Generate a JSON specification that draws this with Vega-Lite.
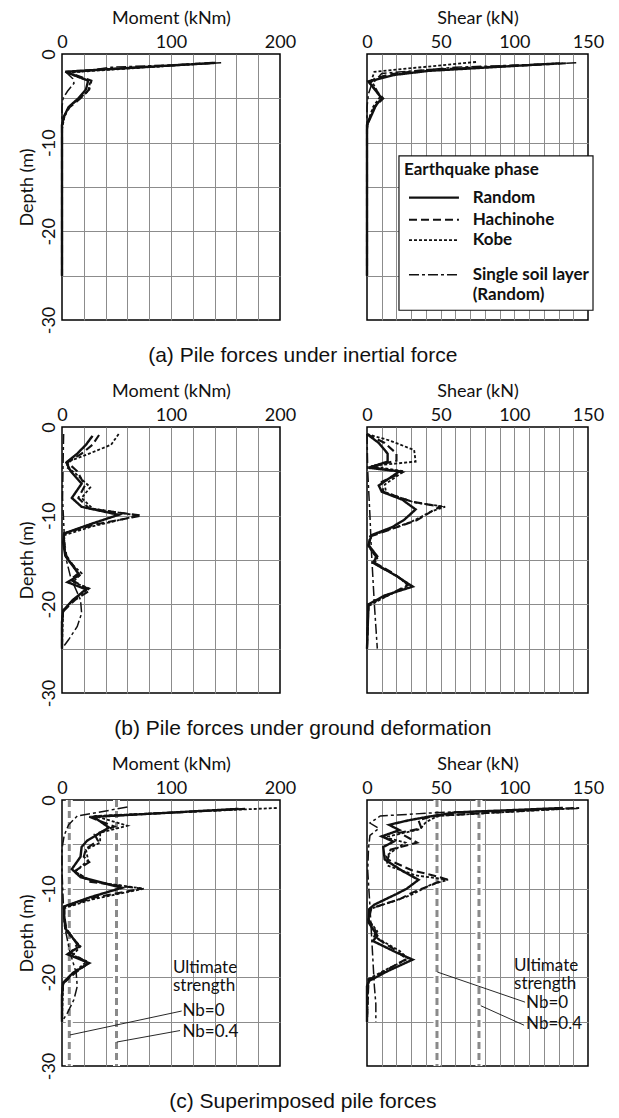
{
"$schema": "https://vega.github.io/schema/vega-lite/v6.json",
"padding": {"left": 17, "right": 4, "top": 8, "bottom": 4},
"config": {
  "view": {"stroke": "#000", "strokeWidth": 1.5},
  "axis": {"labelFont": "Lato", "labelFontSize": 18, "labelColor": "#111", "titleFont": "Lato", "titleFontSize": 18, "titleFontWeight": "normal", "titleColor": "#111", "gridColor": "#8c8c8c", "gridWidth": 1, "labelPadding": 3, "titlePadding": 6},
  "title": {"font": "Liberation Sans", "fontSize": 21, "fontWeight": "normal", "color": "#111"},
  "text": {"font": "Lato", "fontSize": 17, "color": "#111"},
  "line": {"color": "#111"}
},
"datasets": {
  "aM": [
    {"s":"Random","v":141,"d":-1},{"s":"Random","v":3,"d":-2},{"s":"Random","v":24,"d":-3},{"s":"Random","v":22,"d":-4},{"s":"Random","v":15,"d":-5},{"s":"Random","v":6,"d":-6},{"s":"Random","v":2,"d":-7},{"s":"Random","v":0,"d":-8},{"s":"Random","v":0,"d":-25},
    {"s":"Hachinohe","v":138,"d":-1},{"s":"Hachinohe","v":4,"d":-2},{"s":"Hachinohe","v":27,"d":-3},{"s":"Hachinohe","v":25,"d":-4},{"s":"Hachinohe","v":17,"d":-5},{"s":"Hachinohe","v":7,"d":-6},{"s":"Hachinohe","v":2,"d":-7},{"s":"Hachinohe","v":0,"d":-8},{"s":"Hachinohe","v":0,"d":-25},
    {"s":"Kobe","v":140,"d":-1},{"s":"Kobe","v":4,"d":-2.1},{"s":"Kobe","v":26,"d":-3.1},{"s":"Kobe","v":24,"d":-4.2},{"s":"Kobe","v":16,"d":-5},{"s":"Kobe","v":6,"d":-6},{"s":"Kobe","v":2,"d":-7.2},{"s":"Kobe","v":0,"d":-8.5},{"s":"Kobe","v":0,"d":-25},
    {"s":"Single","v":146,"d":-1},{"s":"Single","v":45,"d":-1.5},{"s":"Single","v":5,"d":-2.2},{"s":"Single","v":10,"d":-2.8},{"s":"Single","v":11,"d":-3.3},{"s":"Single","v":5,"d":-4.2},{"s":"Single","v":1,"d":-5},{"s":"Single","v":0,"d":-6},{"s":"Single","v":0,"d":-25}
  ],
  "aS": [
    {"s":"Random","v":131,"d":-1.05},{"s":"Random","v":42,"d":-1.9},{"s":"Random","v":19,"d":-2.35},{"s":"Random","v":8,"d":-2.8},{"s":"Random","v":1,"d":-3.1},{"s":"Random","v":10,"d":-5},{"s":"Random","v":6,"d":-5.8},{"s":"Random","v":2,"d":-7.3},{"s":"Random","v":0,"d":-8},{"s":"Random","v":0,"d":-25},
    {"s":"Hachinohe","v":135,"d":-1.05},{"s":"Hachinohe","v":40,"d":-1.8},{"s":"Hachinohe","v":15,"d":-2.3},{"s":"Hachinohe","v":5,"d":-2.8},{"s":"Hachinohe","v":2,"d":-3.3},{"s":"Hachinohe","v":11,"d":-5},{"s":"Hachinohe","v":5,"d":-6},{"s":"Hachinohe","v":1,"d":-7.5},{"s":"Hachinohe","v":0,"d":-8.5},{"s":"Hachinohe","v":0,"d":-25},
    {"s":"Kobe","v":74,"d":-0.9},{"s":"Kobe","v":5,"d":-2},{"s":"Kobe","v":3,"d":-3},{"s":"Kobe","v":9,"d":-4.8},{"s":"Kobe","v":4,"d":-6},{"s":"Kobe","v":1,"d":-7.5},{"s":"Kobe","v":0,"d":-8.5},{"s":"Kobe","v":0,"d":-25},
    {"s":"Single","v":142,"d":-1},{"s":"Single","v":60,"d":-1.5},{"s":"Single","v":10,"d":-2.2},{"s":"Single","v":3,"d":-3.5},{"s":"Single","v":1,"d":-4.5},{"s":"Single","v":0,"d":-6},{"s":"Single","v":0,"d":-25}
  ],
  "bM": [
    {"s":"Random","v":28,"d":-1},{"s":"Random","v":22,"d":-2},{"s":"Random","v":14,"d":-3},{"s":"Random","v":4,"d":-4},{"s":"Random","v":8,"d":-5},{"s":"Random","v":18,"d":-6.4},{"s":"Random","v":9,"d":-8},{"s":"Random","v":18,"d":-9},{"s":"Random","v":52,"d":-9.9},{"s":"Random","v":25,"d":-11},{"s":"Random","v":2,"d":-12},{"s":"Random","v":1,"d":-13},{"s":"Random","v":3,"d":-14.5},{"s":"Random","v":16,"d":-16.7},{"s":"Random","v":5,"d":-17.5},{"s":"Random","v":22,"d":-18.3},{"s":"Random","v":10,"d":-19.5},{"s":"Random","v":1,"d":-20.7},{"s":"Random","v":0,"d":-22},{"s":"Random","v":0,"d":-25},
    {"s":"Hachinohe","v":34,"d":-0.9},{"s":"Hachinohe","v":28,"d":-2},{"s":"Hachinohe","v":18,"d":-3},{"s":"Hachinohe","v":5,"d":-4},{"s":"Hachinohe","v":14,"d":-5},{"s":"Hachinohe","v":21,"d":-6.6},{"s":"Hachinohe","v":15,"d":-8},{"s":"Hachinohe","v":25,"d":-9.2},{"s":"Hachinohe","v":73,"d":-10},{"s":"Hachinohe","v":30,"d":-11},{"s":"Hachinohe","v":2,"d":-12},{"s":"Hachinohe","v":2,"d":-13},{"s":"Hachinohe","v":4,"d":-14.5},{"s":"Hachinohe","v":15,"d":-16.5},{"s":"Hachinohe","v":8,"d":-17.2},{"s":"Hachinohe","v":26,"d":-18.4},{"s":"Hachinohe","v":12,"d":-19.5},{"s":"Hachinohe","v":1,"d":-20.8},{"s":"Hachinohe","v":0,"d":-22},{"s":"Hachinohe","v":0,"d":-25},
    {"s":"Kobe","v":52,"d":-0.8},{"s":"Kobe","v":45,"d":-2},{"s":"Kobe","v":25,"d":-3},{"s":"Kobe","v":8,"d":-3.8},{"s":"Kobe","v":4,"d":-4.5},{"s":"Kobe","v":12,"d":-5.2},{"s":"Kobe","v":26,"d":-6.8},{"s":"Kobe","v":18,"d":-8},{"s":"Kobe","v":28,"d":-9.2},{"s":"Kobe","v":70,"d":-10},{"s":"Kobe","v":28,"d":-11.2},{"s":"Kobe","v":2,"d":-12.2},{"s":"Kobe","v":2,"d":-13.5},{"s":"Kobe","v":5,"d":-15},{"s":"Kobe","v":18,"d":-16.5},{"s":"Kobe","v":10,"d":-17.5},{"s":"Kobe","v":25,"d":-18.2},{"s":"Kobe","v":10,"d":-19.5},{"s":"Kobe","v":1,"d":-20.8},{"s":"Kobe","v":0,"d":-25},
    {"s":"Single","v":1.5,"d":-0.8},{"s":"Single","v":1,"d":-4},{"s":"Single","v":0.5,"d":-8},{"s":"Single","v":2,"d":-12},{"s":"Single","v":3,"d":-14.5},{"s":"Single","v":8,"d":-17},{"s":"Single","v":17,"d":-19.5},{"s":"Single","v":18,"d":-21},{"s":"Single","v":14,"d":-22.5},{"s":"Single","v":6,"d":-24},{"s":"Single","v":0,"d":-25}
  ],
  "bS": [
    {"s":"Random","v":0,"d":-0.8},{"s":"Random","v":8,"d":-1.8},{"s":"Random","v":14,"d":-3},{"s":"Random","v":14,"d":-3.9},{"s":"Random","v":1,"d":-4.6},{"s":"Random","v":22,"d":-5},{"s":"Random","v":8,"d":-6.6},{"s":"Random","v":10,"d":-7.3},{"s":"Random","v":24,"d":-8.2},{"s":"Random","v":33,"d":-9.3},{"s":"Random","v":25,"d":-10.5},{"s":"Random","v":17,"d":-11.3},{"s":"Random","v":3,"d":-12.2},{"s":"Random","v":1,"d":-13.3},{"s":"Random","v":7,"d":-14.6},{"s":"Random","v":4,"d":-15.3},{"s":"Random","v":20,"d":-16.8},{"s":"Random","v":31,"d":-18},{"s":"Random","v":12,"d":-19},{"s":"Random","v":1,"d":-20},{"s":"Random","v":0,"d":-25},
    {"s":"Hachinohe","v":0,"d":-0.8},{"s":"Hachinohe","v":12,"d":-1.8},{"s":"Hachinohe","v":20,"d":-3},{"s":"Hachinohe","v":20,"d":-3.8},{"s":"Hachinohe","v":2,"d":-4.5},{"s":"Hachinohe","v":24,"d":-5.1},{"s":"Hachinohe","v":10,"d":-6.2},{"s":"Hachinohe","v":11,"d":-7.3},{"s":"Hachinohe","v":30,"d":-8.4},{"s":"Hachinohe","v":50,"d":-9},{"s":"Hachinohe","v":46,"d":-9.3},{"s":"Hachinohe","v":34,"d":-10.5},{"s":"Hachinohe","v":22,"d":-11.2},{"s":"Hachinohe","v":3,"d":-12.3},{"s":"Hachinohe","v":1,"d":-13.4},{"s":"Hachinohe","v":6,"d":-14.6},{"s":"Hachinohe","v":5,"d":-15.3},{"s":"Hachinohe","v":18,"d":-16.5},{"s":"Hachinohe","v":28,"d":-17.8},{"s":"Hachinohe","v":14,"d":-19},{"s":"Hachinohe","v":1,"d":-20},{"s":"Hachinohe","v":0,"d":-25},
    {"s":"Kobe","v":0,"d":-0.8},{"s":"Kobe","v":15,"d":-1.5},{"s":"Kobe","v":32,"d":-2.6},{"s":"Kobe","v":33,"d":-3.9},{"s":"Kobe","v":3,"d":-4.4},{"s":"Kobe","v":25,"d":-5},{"s":"Kobe","v":12,"d":-6.5},{"s":"Kobe","v":13,"d":-7.4},{"s":"Kobe","v":32,"d":-8.5},{"s":"Kobe","v":53,"d":-9},{"s":"Kobe","v":44,"d":-9.5},{"s":"Kobe","v":30,"d":-10.7},{"s":"Kobe","v":20,"d":-11.3},{"s":"Kobe","v":2,"d":-12.3},{"s":"Kobe","v":1,"d":-13.5},{"s":"Kobe","v":7,"d":-14.8},{"s":"Kobe","v":5,"d":-15.4},{"s":"Kobe","v":22,"d":-17},{"s":"Kobe","v":28,"d":-17.9},{"s":"Kobe","v":12,"d":-19.2},{"s":"Kobe","v":1,"d":-20.2},{"s":"Kobe","v":0,"d":-25},
    {"s":"Single","v":0,"d":-0.8},{"s":"Single","v":0.5,"d":-5},{"s":"Single","v":2,"d":-10},{"s":"Single","v":3,"d":-14},{"s":"Single","v":4,"d":-17},{"s":"Single","v":5,"d":-20},{"s":"Single","v":6,"d":-22.5},{"s":"Single","v":7,"d":-25}
  ],
  "cM": [
    {"s":"Random","v":162,"d":-1},{"s":"Random","v":29,"d":-1.9},{"s":"Random","v":43,"d":-3.1},{"s":"Random","v":31,"d":-4},{"s":"Random","v":23,"d":-4.6},{"s":"Random","v":18,"d":-5.3},{"s":"Random","v":17,"d":-6.4},{"s":"Random","v":9,"d":-7.8},{"s":"Random","v":17,"d":-8.7},{"s":"Random","v":55,"d":-9.9},{"s":"Random","v":25,"d":-11},{"s":"Random","v":2,"d":-12},{"s":"Random","v":2,"d":-13},{"s":"Random","v":3,"d":-14.5},{"s":"Random","v":16,"d":-16.5},{"s":"Random","v":5,"d":-17.4},{"s":"Random","v":25,"d":-18.4},{"s":"Random","v":10,"d":-19.5},{"s":"Random","v":1,"d":-20.6},{"s":"Random","v":0,"d":-22},{"s":"Random","v":0,"d":-25},
    {"s":"Hachinohe","v":168,"d":-1},{"s":"Hachinohe","v":25,"d":-1.9},{"s":"Hachinohe","v":48,"d":-3},{"s":"Hachinohe","v":30,"d":-3.9},{"s":"Hachinohe","v":33,"d":-4.6},{"s":"Hachinohe","v":22,"d":-5.5},{"s":"Hachinohe","v":20,"d":-6.4},{"s":"Hachinohe","v":25,"d":-7},{"s":"Hachinohe","v":12,"d":-8},{"s":"Hachinohe","v":25,"d":-9.2},{"s":"Hachinohe","v":73,"d":-10},{"s":"Hachinohe","v":30,"d":-11},{"s":"Hachinohe","v":2,"d":-12.1},{"s":"Hachinohe","v":2,"d":-13},{"s":"Hachinohe","v":4,"d":-14.5},{"s":"Hachinohe","v":14,"d":-16.3},{"s":"Hachinohe","v":8,"d":-17.2},{"s":"Hachinohe","v":24,"d":-18.4},{"s":"Hachinohe","v":12,"d":-19.5},{"s":"Hachinohe","v":1,"d":-20.7},{"s":"Hachinohe","v":0,"d":-22},{"s":"Hachinohe","v":0,"d":-25},
    {"s":"Kobe","v":197,"d":-0.9},{"s":"Kobe","v":30,"d":-1.8},{"s":"Kobe","v":60,"d":-2.9},{"s":"Kobe","v":35,"d":-3.7},{"s":"Kobe","v":35,"d":-4.8},{"s":"Kobe","v":22,"d":-5.6},{"s":"Kobe","v":24,"d":-6.8},{"s":"Kobe","v":12,"d":-8.1},{"s":"Kobe","v":28,"d":-9.2},{"s":"Kobe","v":75,"d":-10},{"s":"Kobe","v":28,"d":-11.2},{"s":"Kobe","v":2,"d":-12.2},{"s":"Kobe","v":2,"d":-13.5},{"s":"Kobe","v":5,"d":-15},{"s":"Kobe","v":17,"d":-16.5},{"s":"Kobe","v":10,"d":-17.5},{"s":"Kobe","v":23,"d":-18.2},{"s":"Kobe","v":10,"d":-19.5},{"s":"Kobe","v":1,"d":-20.8},{"s":"Kobe","v":0,"d":-25},
    {"s":"Single","v":60,"d":-0.8},{"s":"Single","v":14,"d":-1.8},{"s":"Single","v":6,"d":-2.8},{"s":"Single","v":2,"d":-4},{"s":"Single","v":0,"d":-5.5},{"s":"Single","v":0,"d":-8},{"s":"Single","v":1,"d":-11},{"s":"Single","v":2,"d":-14},{"s":"Single","v":7,"d":-17},{"s":"Single","v":13,"d":-19.5},{"s":"Single","v":14,"d":-21},{"s":"Single","v":11,"d":-22.5},{"s":"Single","v":5,"d":-24},{"s":"Single","v":0,"d":-25}
  ],
  "cS": [
    {"s":"Random","v":133,"d":-0.9},{"s":"Random","v":60,"d":-1.4},{"s":"Random","v":41,"d":-1.9},{"s":"Random","v":28,"d":-2.3},{"s":"Random","v":15,"d":-2.8},{"s":"Random","v":22,"d":-3.4},{"s":"Random","v":10,"d":-4.1},{"s":"Random","v":18,"d":-4.7},{"s":"Random","v":11,"d":-5.3},{"s":"Random","v":12,"d":-6.7},{"s":"Random","v":24,"d":-8},{"s":"Random","v":35,"d":-9},{"s":"Random","v":27,"d":-10},{"s":"Random","v":20,"d":-10.6},{"s":"Random","v":5,"d":-11.8},{"s":"Random","v":1.5,"d":-12.3},{"s":"Random","v":1,"d":-13.8},{"s":"Random","v":7,"d":-15.3},{"s":"Random","v":4,"d":-15.9},{"s":"Random","v":20,"d":-17.2},{"s":"Random","v":31,"d":-18},{"s":"Random","v":14,"d":-19.3},{"s":"Random","v":1.5,"d":-20.4},{"s":"Random","v":0,"d":-21},{"s":"Random","v":0,"d":-25},
    {"s":"Hachinohe","v":140,"d":-0.9},{"s":"Hachinohe","v":45,"d":-1.8},{"s":"Hachinohe","v":35,"d":-2.3},{"s":"Hachinohe","v":37,"d":-3.2},{"s":"Hachinohe","v":22,"d":-3.7},{"s":"Hachinohe","v":34,"d":-4.8},{"s":"Hachinohe","v":16,"d":-5.6},{"s":"Hachinohe","v":14,"d":-6.7},{"s":"Hachinohe","v":30,"d":-7.9},{"s":"Hachinohe","v":47,"d":-8.6},{"s":"Hachinohe","v":53,"d":-8.9},{"s":"Hachinohe","v":45,"d":-9.5},{"s":"Hachinohe","v":30,"d":-10.5},{"s":"Hachinohe","v":22,"d":-11.2},{"s":"Hachinohe","v":3,"d":-12.2},{"s":"Hachinohe","v":1,"d":-13.5},{"s":"Hachinohe","v":6,"d":-14.8},{"s":"Hachinohe","v":5,"d":-15.4},{"s":"Hachinohe","v":18,"d":-16.8},{"s":"Hachinohe","v":27,"d":-17.9},{"s":"Hachinohe","v":13,"d":-19.2},{"s":"Hachinohe","v":1,"d":-20.3},{"s":"Hachinohe","v":0,"d":-25},
    {"s":"Kobe","v":144,"d":-0.9},{"s":"Kobe","v":48,"d":-1.8},{"s":"Kobe","v":40,"d":-2.5},{"s":"Kobe","v":36,"d":-3.3},{"s":"Kobe","v":12,"d":-4.2},{"s":"Kobe","v":26,"d":-4.8},{"s":"Kobe","v":13,"d":-6.3},{"s":"Kobe","v":14,"d":-7.4},{"s":"Kobe","v":33,"d":-8.5},{"s":"Kobe","v":55,"d":-9},{"s":"Kobe","v":44,"d":-9.5},{"s":"Kobe","v":30,"d":-10.7},{"s":"Kobe","v":20,"d":-11.3},{"s":"Kobe","v":2,"d":-12.3},{"s":"Kobe","v":1,"d":-13.5},{"s":"Kobe","v":7,"d":-14.8},{"s":"Kobe","v":5,"d":-15.4},{"s":"Kobe","v":22,"d":-17},{"s":"Kobe","v":28,"d":-17.9},{"s":"Kobe","v":12,"d":-19.2},{"s":"Kobe","v":1,"d":-20.2},{"s":"Kobe","v":0,"d":-25},
    {"s":"Single","v":143,"d":-0.95},{"s":"Single","v":50,"d":-1.4},{"s":"Single","v":9,"d":-1.8},{"s":"Single","v":2,"d":-2.6},{"s":"Single","v":8,"d":-3.2},{"s":"Single","v":2,"d":-4},{"s":"Single","v":1,"d":-5.5},{"s":"Single","v":0.5,"d":-8},{"s":"Single","v":2,"d":-12},{"s":"Single","v":3,"d":-15},{"s":"Single","v":4,"d":-18},{"s":"Single","v":5,"d":-21},{"s":"Single","v":6,"d":-23},{"s":"Single","v":6,"d":-25}
  ],
  "legBox": [{"v":21.7,"v2":153.4,"d":-11.5,"d2":-28.9}],
  "legLines": [
    {"s":"Random","v":28.5,"v2":62.4,"d":-16.2},{"s":"Hachinohe","v":28.5,"v2":62.4,"d":-18.7},{"s":"Kobe","v":28.5,"v2":62.4,"d":-21.0},{"s":"Single","v":28.5,"v2":62.4,"d":-24.9}
  ],
  "legText": [
    {"t":"Earthquake phase","v":25.1,"d":-13.1},{"t":"Random","v":71.7,"d":-16.2},{"t":"Hachinohe","v":71.7,"d":-18.7},{"t":"Kobe","v":71.7,"d":-21.0},{"t":"Single soil layer","v":71.7,"d":-24.9},{"t":"(Random)","v":71.7,"d":-27.2}
  ],
  "ultM": [{"v":6.7,"d":0,"d2":-30},{"v":50,"d":0,"d2":-30}],
  "leadM": [{"v":7.3,"d":-26.5,"v2":109.8,"d2":-23.8},{"v":50.2,"d":-27.3,"v2":108.3,"d2":-26.0}],
  "textM": [{"t":"Ultimate\nstrength","v":101.8,"d":-19.5},{"t":"Nb=0","v":110.5,"d":-24.4},{"t":"Nb=0.4","v":110.5,"d":-26.7}],
  "ultS": [{"v":47.5,"d":0,"d2":-30},{"v":76,"d":0,"d2":-30}],
  "leadS": [{"v":47.7,"d":-19.4,"v2":107.3,"d2":-22.8},{"v":77.2,"d":-23.2,"v2":106.6,"d2":-25.4}],
  "textS": [{"t":"Ultimate\nstrength","v":99.8,"d":-19.3},{"t":"Nb=0","v":108,"d":-23.5},{"t":"Nb=0.4","v":108,"d":-25.8}]
},
"spacing": 15,
"vconcat": [
  {
    "title": {"text": "(a) Pile forces under inertial force", "orient": "bottom", "anchor": "middle", "offset": 10, "dx": -8},
    "spacing": 64,
    "hconcat": [
      {
        "width": 218, "height": 266,
        "encoding": {
          "x": {"field": "v", "type": "quantitative", "scale": {"domain": [0, 200], "nice": false, "zero": false},
                "axis": {"orient": "top", "title": "Moment (kNm)", "values": [0,20,40,60,80,100,120,140,160,180,200], "labelExpr": "datum.value % 100 == 0 ? datum.label : ''", "grid": true, "gridOpacity": {"condition": {"test": "datum.value == 0 || datum.value == 200", "value": 0}, "value": 1}, "ticks": false, "domain": false, "labelFlush": false, "labelOverlap": false}},
          "y": {"field": "d", "type": "quantitative", "scale": {"domain": [-30, 0], "nice": false, "zero": false},
                "axis": {"title": "Depth (m)", "values": [0,-5,-10,-15,-20,-25,-30], "labelExpr": "datum.value % 10 == 0 ? '' + datum.value : ''", "labelAngle": 270, "grid": true, "gridOpacity": {"condition": {"test": "datum.value == 0 || datum.value == -30", "value": 0}, "value": 1}, "ticks": false, "domain": false, "labelFlush": false, "labelOverlap": false, "labelPadding": 4, "titlePadding": 4}}
        },
        "layer": [
          {"data": {"name": "aM"}, "mark": {"type": "line"},
           "encoding": {
             "strokeDash": {"field": "s", "type": "nominal", "scale": {"domain": ["Random","Hachinohe","Kobe","Single"], "range": [[1,0],[8,4],[3,2],[10,3,3,3]]}, "legend": null},
             "strokeWidth": {"field": "s", "type": "nominal", "scale": {"domain": ["Random","Hachinohe","Kobe","Single"], "range": [2.4,1.5,1.4,1.8]}, "legend": null},
             "order": {"field": "d", "sort": "descending"}}}
        ]
      },
      {
        "width": 221, "height": 266,
        "encoding": {
          "x": {"field": "v", "type": "quantitative", "scale": {"domain": [0, 150], "nice": false, "zero": false},
                "axis": {"orient": "top", "title": "Shear (kN)", "values": [0,10,20,30,40,50,60,70,80,90,100,110,120,130,140,150], "labelExpr": "datum.value % 50 == 0 ? datum.label : ''", "grid": true, "gridOpacity": {"condition": {"test": "datum.value == 0 || datum.value == 150", "value": 0}, "value": 1}, "ticks": false, "domain": false, "labelFlush": false, "labelOverlap": false}},
          "y": {"field": "d", "type": "quantitative", "scale": {"domain": [-30, 0], "nice": false, "zero": false},
                "axis": {"title": null, "labels": false, "values": [0,-5,-10,-15,-20,-25,-30], "grid": true, "gridOpacity": {"condition": {"test": "datum.value == 0 || datum.value == -30", "value": 0}, "value": 1}, "ticks": false, "domain": false, "minExtent": 0, "maxExtent": 0}}
        },
        "layer": [
          {"data": {"name": "aS"}, "mark": {"type": "line"},
           "encoding": {
             "strokeDash": {"field": "s", "type": "nominal", "scale": {"domain": ["Random","Hachinohe","Kobe","Single"], "range": [[1,0],[8,4],[3,2],[10,3,3,3]]}, "legend": null},
             "strokeWidth": {"field": "s", "type": "nominal", "scale": {"domain": ["Random","Hachinohe","Kobe","Single"], "range": [2.4,1.5,1.4,1.8]}, "legend": null},
             "order": {"field": "d", "sort": "descending"}}},
          {"data": {"name": "legBox"}, "mark": {"type": "rect", "fill": "white", "stroke": "#111", "strokeWidth": 1.2},
           "encoding": {"x2": {"field": "v2"}, "y2": {"field": "d2"}}},
          {"data": {"name": "legLines"}, "mark": {"type": "rule", "color": "#111"},
           "encoding": {
             "x2": {"field": "v2"},
             "strokeDash": {"field": "s", "type": "nominal", "scale": {"domain": ["Random","Hachinohe","Kobe","Single"], "range": [[1,0],[8,4],[3,2],[10,3,3,3]]}, "legend": null},
             "strokeWidth": {"field": "s", "type": "nominal", "scale": {"domain": ["Random","Hachinohe","Kobe","Single"], "range": [2.4,1.5,1.4,1.8]}, "legend": null}}},
          {"data": {"name": "legText"}, "mark": {"type": "text", "align": "left", "baseline": "middle", "fontWeight": "bold", "fontSize": 17},
           "encoding": {"text": {"field": "t"}}}
        ]
      }
    ]
  },
  {
    "title": {"text": "(b) Pile forces under ground deformation", "orient": "bottom", "anchor": "middle", "offset": 10, "dx": -8},
    "spacing": 64,
    "hconcat": [
      {
        "width": 218, "height": 266,
        "encoding": {
          "x": {"field": "v", "type": "quantitative", "scale": {"domain": [0, 200], "nice": false, "zero": false},
                "axis": {"orient": "top", "title": "Moment (kNm)", "values": [0,20,40,60,80,100,120,140,160,180,200], "labelExpr": "datum.value % 100 == 0 ? datum.label : ''", "grid": true, "gridOpacity": {"condition": {"test": "datum.value == 0 || datum.value == 200", "value": 0}, "value": 1}, "ticks": false, "domain": false, "labelFlush": false, "labelOverlap": false}},
          "y": {"field": "d", "type": "quantitative", "scale": {"domain": [-30, 0], "nice": false, "zero": false},
                "axis": {"title": "Depth (m)", "values": [0,-5,-10,-15,-20,-25,-30], "labelExpr": "datum.value % 10 == 0 ? '' + datum.value : ''", "labelAngle": 270, "grid": true, "gridOpacity": {"condition": {"test": "datum.value == 0 || datum.value == -30", "value": 0}, "value": 1}, "ticks": false, "domain": false, "labelFlush": false, "labelOverlap": false, "labelPadding": 4, "titlePadding": 4}}
        },
        "layer": [
          {"data": {"name": "bM"}, "mark": {"type": "line"},
           "encoding": {
             "strokeDash": {"field": "s", "type": "nominal", "scale": {"domain": ["Random","Hachinohe","Kobe","Single"], "range": [[1,0],[8,4],[3,2],[10,3,3,3]]}, "legend": null},
             "strokeWidth": {"field": "s", "type": "nominal", "scale": {"domain": ["Random","Hachinohe","Kobe","Single"], "range": [2.4,1.5,1.4,1.8]}, "legend": null},
             "order": {"field": "d", "sort": "descending"}}}
        ]
      },
      {
        "width": 221, "height": 266,
        "encoding": {
          "x": {"field": "v", "type": "quantitative", "scale": {"domain": [0, 150], "nice": false, "zero": false},
                "axis": {"orient": "top", "title": "Shear (kN)", "values": [0,10,20,30,40,50,60,70,80,90,100,110,120,130,140,150], "labelExpr": "datum.value % 50 == 0 ? datum.label : ''", "grid": true, "gridOpacity": {"condition": {"test": "datum.value == 0 || datum.value == 150", "value": 0}, "value": 1}, "ticks": false, "domain": false, "labelFlush": false, "labelOverlap": false}},
          "y": {"field": "d", "type": "quantitative", "scale": {"domain": [-30, 0], "nice": false, "zero": false},
                "axis": {"title": null, "labels": false, "values": [0,-5,-10,-15,-20,-25,-30], "grid": true, "gridOpacity": {"condition": {"test": "datum.value == 0 || datum.value == -30", "value": 0}, "value": 1}, "ticks": false, "domain": false, "minExtent": 0, "maxExtent": 0}}
        },
        "layer": [
          {"data": {"name": "bS"}, "mark": {"type": "line"},
           "encoding": {
             "strokeDash": {"field": "s", "type": "nominal", "scale": {"domain": ["Random","Hachinohe","Kobe","Single"], "range": [[1,0],[8,4],[3,2],[10,3,3,3]]}, "legend": null},
             "strokeWidth": {"field": "s", "type": "nominal", "scale": {"domain": ["Random","Hachinohe","Kobe","Single"], "range": [2.4,1.5,1.4,1.8]}, "legend": null},
             "order": {"field": "d", "sort": "descending"}}}
        ]
      }
    ]
  },
  {
    "title": {"text": "(c) Superimposed pile forces", "orient": "bottom", "anchor": "middle", "offset": 10, "dx": -8},
    "spacing": 64,
    "hconcat": [
      {
        "width": 218, "height": 266,
        "encoding": {
          "x": {"field": "v", "type": "quantitative", "scale": {"domain": [0, 200], "nice": false, "zero": false},
                "axis": {"orient": "top", "title": "Moment (kNm)", "values": [0,20,40,60,80,100,120,140,160,180,200], "labelExpr": "datum.value % 100 == 0 ? datum.label : ''", "grid": true, "gridOpacity": {"condition": {"test": "datum.value == 0 || datum.value == 200", "value": 0}, "value": 1}, "ticks": false, "domain": false, "labelFlush": false, "labelOverlap": false}},
          "y": {"field": "d", "type": "quantitative", "scale": {"domain": [-30, 0], "nice": false, "zero": false},
                "axis": {"title": "Depth (m)", "values": [0,-5,-10,-15,-20,-25,-30], "labelExpr": "datum.value % 10 == 0 ? '' + datum.value : ''", "labelAngle": 270, "grid": true, "gridOpacity": {"condition": {"test": "datum.value == 0 || datum.value == -30", "value": 0}, "value": 1}, "ticks": false, "domain": false, "labelFlush": false, "labelOverlap": false, "labelPadding": 4, "titlePadding": 4}}
        },
        "layer": [
          {"data": {"name": "ultM"}, "mark": {"type": "rule", "color": "white", "strokeWidth": 7}, "encoding": {"y2": {"field": "d2"}}},
          {"data": {"name": "ultM"}, "mark": {"type": "rule", "color": "#8a8a8a", "strokeWidth": 3, "strokeDash": [7, 4]}, "encoding": {"y2": {"field": "d2"}}},
          {"data": {"name": "cM"}, "mark": {"type": "line"},
           "encoding": {
             "strokeDash": {"field": "s", "type": "nominal", "scale": {"domain": ["Random","Hachinohe","Kobe","Single"], "range": [[1,0],[8,4],[3,2],[10,3,3,3]]}, "legend": null},
             "strokeWidth": {"field": "s", "type": "nominal", "scale": {"domain": ["Random","Hachinohe","Kobe","Single"], "range": [2.4,1.5,1.4,1.8]}, "legend": null},
             "order": {"field": "d", "sort": "descending"}}},
          {"data": {"name": "leadM"}, "mark": {"type": "rule", "color": "#111", "strokeWidth": 0.9}, "encoding": {"x2": {"field": "v2"}, "y2": {"field": "d2"}}},
          {"data": {"name": "textM"}, "mark": {"type": "text", "align": "left", "baseline": "alphabetic", "lineBreak": "\n", "lineHeight": 18}, "encoding": {"text": {"field": "t"}}}
        ]
      },
      {
        "width": 221, "height": 266,
        "encoding": {
          "x": {"field": "v", "type": "quantitative", "scale": {"domain": [0, 150], "nice": false, "zero": false},
                "axis": {"orient": "top", "title": "Shear (kN)", "values": [0,10,20,30,40,50,60,70,80,90,100,110,120,130,140,150], "labelExpr": "datum.value % 50 == 0 ? datum.label : ''", "grid": true, "gridOpacity": {"condition": {"test": "datum.value == 0 || datum.value == 150", "value": 0}, "value": 1}, "ticks": false, "domain": false, "labelFlush": false, "labelOverlap": false}},
          "y": {"field": "d", "type": "quantitative", "scale": {"domain": [-30, 0], "nice": false, "zero": false},
                "axis": {"title": null, "labels": false, "values": [0,-5,-10,-15,-20,-25,-30], "grid": true, "gridOpacity": {"condition": {"test": "datum.value == 0 || datum.value == -30", "value": 0}, "value": 1}, "ticks": false, "domain": false, "minExtent": 0, "maxExtent": 0}}
        },
        "layer": [
          {"data": {"name": "ultS"}, "mark": {"type": "rule", "color": "white", "strokeWidth": 7}, "encoding": {"y2": {"field": "d2"}}},
          {"data": {"name": "ultS"}, "mark": {"type": "rule", "color": "#8a8a8a", "strokeWidth": 3, "strokeDash": [7, 4]}, "encoding": {"y2": {"field": "d2"}}},
          {"data": {"name": "cS"}, "mark": {"type": "line"},
           "encoding": {
             "strokeDash": {"field": "s", "type": "nominal", "scale": {"domain": ["Random","Hachinohe","Kobe","Single"], "range": [[1,0],[8,4],[3,2],[10,3,3,3]]}, "legend": null},
             "strokeWidth": {"field": "s", "type": "nominal", "scale": {"domain": ["Random","Hachinohe","Kobe","Single"], "range": [2.4,1.5,1.4,1.8]}, "legend": null},
             "order": {"field": "d", "sort": "descending"}}},
          {"data": {"name": "leadS"}, "mark": {"type": "rule", "color": "#111", "strokeWidth": 0.9}, "encoding": {"x2": {"field": "v2"}, "y2": {"field": "d2"}}},
          {"data": {"name": "textS"}, "mark": {"type": "text", "align": "left", "baseline": "alphabetic", "lineBreak": "\n", "lineHeight": 18}, "encoding": {"text": {"field": "t"}}}
        ]
      }
    ]
  }
]
}
